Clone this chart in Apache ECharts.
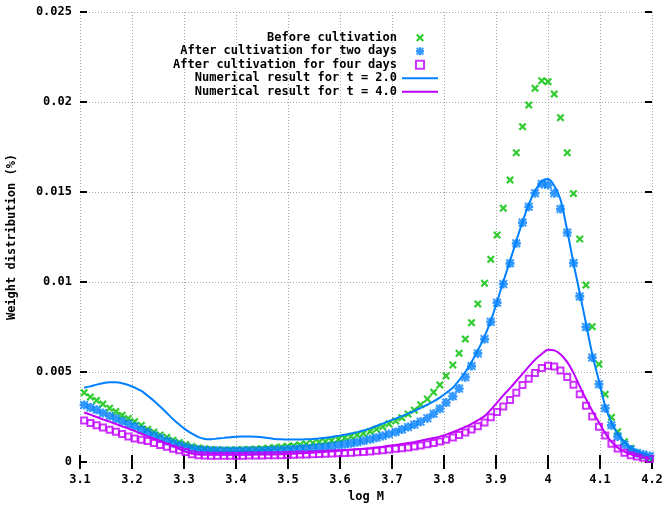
<!DOCTYPE html>
<html><head><meta charset="utf-8">
<script src="https://cdn.jsdelivr.net/npm/echarts/dist/echarts.min.js"></script>
<style>html,body{margin:0;padding:0;background:#fff}#c{width:665px;height:506px}</style>
</head><body><div id="c"></div>
<script>
const logM = [
3.108,3.120,3.132,3.144,3.157,3.169,3.181,3.193,3.205,3.218,
3.230,3.242,3.254,3.267,3.279,3.291,3.303,3.315,3.328,3.340,
3.352,3.364,3.377,3.389,3.401,3.413,3.425,3.438,3.450,3.462,
3.474,3.487,3.499,3.511,3.523,3.535,3.548,3.560,3.572,3.584,
3.597,3.609,3.621,3.633,3.645,3.658,3.670,3.682,3.694,3.707,
3.719,3.731,3.743,3.755,3.768,3.780,3.792,3.804,3.817,3.829,
3.841,3.853,3.865,3.878,3.890,3.902,3.914,3.927,3.939,3.951,
3.963,3.975,3.988,4.000,4.012,4.024,4.037,4.049,4.061,4.073,
4.085,4.098,4.110,4.122,4.134,4.147,4.159,4.171,4.183,4.196];

const beforeCultivation = [
0.00385,0.00361,0.00342,0.00322,0.00299,0.00280,0.00260,0.00242,0.00224,0.00204,
0.00182,0.00166,0.00150,0.00137,0.00121,0.00109,0.00097,0.00086,0.00078,0.00073,
0.00070,0.00068,0.00067,0.00067,0.00068,0.00069,0.00070,0.00072,0.00074,0.00077,
0.00080,0.00083,0.00087,0.00090,0.00095,0.00100,0.00105,0.00110,0.00115,0.00120,
0.00127,0.00134,0.00142,0.00150,0.00159,0.00170,0.00182,0.00196,0.00212,0.00228,
0.00246,0.00266,0.00288,0.00318,0.00350,0.00388,0.00428,0.00478,0.00539,0.00604,
0.00683,0.00774,0.00878,0.00993,0.01126,0.01261,0.01410,0.01567,0.01718,0.01863,
0.01983,0.02076,0.02118,0.02113,0.02044,0.01913,0.01718,0.01491,0.01239,0.00983,
0.00752,0.00543,0.00376,0.00248,0.00168,0.00113,0.00076,0.00048,0.00030,0.00020];

const afterTwoDays = [
0.00317,0.00303,0.00290,0.00272,0.00256,0.00241,0.00226,0.00211,0.00197,0.00179,
0.00164,0.00147,0.00132,0.00117,0.00104,0.00093,0.00082,0.00074,0.00068,0.00065,
0.00063,0.00062,0.00061,0.00061,0.00061,0.00061,0.00062,0.00062,0.00063,0.00064,
0.00066,0.00067,0.00069,0.00071,0.00073,0.00076,0.00078,0.00080,0.00084,0.00088,
0.00093,0.00098,0.00104,0.00110,0.00118,0.00126,0.00135,0.00145,0.00155,0.00167,
0.00181,0.00194,0.00208,0.00224,0.00243,0.00268,0.00296,0.00330,0.00365,0.00408,
0.00471,0.00533,0.00603,0.00683,0.00779,0.00885,0.00989,0.01104,0.01215,0.01330,
0.01418,0.01493,0.01545,0.01540,0.01493,0.01405,0.01275,0.01105,0.00920,0.00750,
0.00580,0.00432,0.00298,0.00204,0.00141,0.00097,0.00070,0.00050,0.00041,0.00034];

const afterFourDays = [
0.00230,0.00217,0.00204,0.00192,0.00179,0.00168,0.00155,0.00142,0.00130,0.00124,
0.00117,0.00106,0.00095,0.00085,0.00073,0.00065,0.00055,0.00043,0.00038,0.00036,
0.00035,0.00035,0.00035,0.00035,0.00035,0.00035,0.00036,0.00036,0.00036,0.00037,
0.00037,0.00038,0.00039,0.00040,0.00041,0.00042,0.00043,0.00044,0.00046,0.00047,
0.00049,0.00050,0.00052,0.00054,0.00056,0.00059,0.00062,0.00065,0.00069,0.00073,
0.00077,0.00081,0.00086,0.00092,0.00099,0.00106,0.00114,0.00124,0.00136,0.00150,
0.00164,0.00180,0.00199,0.00220,0.00248,0.00278,0.00308,0.00345,0.00385,0.00428,
0.00462,0.00495,0.00522,0.00535,0.00530,0.00508,0.00472,0.00429,0.00376,0.00312,
0.00253,0.00196,0.00147,0.00102,0.00075,0.00051,0.00037,0.00030,0.00023,0.00017];

const numericalT2 = [
0.00412,0.00420,0.00430,0.00438,0.00443,0.00443,0.00438,0.00428,0.00414,0.00395,
0.00368,0.00340,0.00308,0.00272,0.00238,0.00208,0.00180,0.00158,0.00138,0.00128,
0.00126,0.00130,0.00134,0.00138,0.00140,0.00141,0.00141,0.00140,0.00138,0.00133,
0.00128,0.00126,0.00125,0.00125,0.00125,0.00126,0.00128,0.00131,0.00135,0.00139,
0.00145,0.00151,0.00158,0.00166,0.00175,0.00187,0.00200,0.00213,0.00227,0.00241,
0.00255,0.00269,0.00284,0.00300,0.00318,0.00337,0.00358,0.00383,0.00413,0.00453,
0.00500,0.00556,0.00620,0.00697,0.00785,0.00890,0.01002,0.01118,0.01228,0.01335,
0.01430,0.01505,0.01560,0.01572,0.01535,0.01458,0.01285,0.01105,0.00940,0.00770,
0.00600,0.00450,0.00310,0.00220,0.00155,0.00112,0.00082,0.00062,0.00047,0.00035];

const numericalT4 = [
0.00275,0.00263,0.00250,0.00237,0.00224,0.00211,0.00198,0.00186,0.00172,0.00157,
0.00144,0.00130,0.00117,0.00102,0.00088,0.00072,0.00056,0.00047,0.00042,0.00040,
0.00040,0.00040,0.00040,0.00040,0.00040,0.00040,0.00040,0.00041,0.00041,0.00042,
0.00042,0.00043,0.00044,0.00046,0.00048,0.00050,0.00052,0.00054,0.00057,0.00060,
0.00062,0.00065,0.00068,0.00071,0.00074,0.00077,0.00080,0.00085,0.00090,0.00095,
0.00100,0.00105,0.00110,0.00118,0.00126,0.00133,0.00141,0.00152,0.00165,0.00180,
0.00195,0.00212,0.00232,0.00255,0.00290,0.00330,0.00370,0.00410,0.00450,0.00490,
0.00530,0.00568,0.00600,0.00623,0.00620,0.00598,0.00555,0.00495,0.00420,0.00350,
0.00285,0.00220,0.00160,0.00112,0.00080,0.00058,0.00043,0.00033,0.00025,0.00019];

const seriesNames = ['Before cultivation','After cultivation for two days','After cultivation for four days','Numerical result for t = 2.0','Numerical result for t = 4.0'];
const xRange = {min: 3.1, max: 4.2, interval: 0.1};
const yRange = {min: 0, max: 0.025, interval: 0.005};

const FONT = 'DejaVu Sans Mono';
const GREEN = '#00c000', BLUE = '#0080ff', MAGENTA = '#c000ff';
const crossPath = 'path://M0,2L2,0L5,3L8,0L10,2L7,5L10,8L8,10L5,7L2,10L0,8L3,5Z';
const starPath = 'path://M3.5,0H6.5V3.5H10V6.5H6.5V10H3.5V6.5H0V3.5H3.5Z M0,1.5L1.5,0L5,3.5L8.5,0L10,1.5L6.5,5L10,8.5L8.5,10L5,6.5L1.5,10L0,8.5L3.5,5Z';
const squarePath = 'path://M0,0H10V10H0Z';
const linePath = 'path://M0,0H36V2H0Z';
const pairs = ys => logM.map((x, i) => [x, ys[i]]);
const txt = {fontFamily: FONT, fontWeight: 'bold', fontSize: 12, color: '#000'};
const grid = {color: '#a8a8a8', type: [1, 2], width: 1};

const chart = echarts.init(document.getElementById('c'), null, {renderer: 'canvas'});
chart.setOption({
  animation: false,
  backgroundColor: '#fff',
  grid: {left: 80, right: 13, top: 12, bottom: 44, containLabel: false, outerBoundsMode: 'none'},
  legend: {
    orient: 'vertical', right: 222, top: 26, align: 'right',
    itemWidth: 36, itemHeight: 8, itemGap: 0, selectedMode: false,
    textStyle: Object.assign({}, txt, {lineHeight: 13.5}),
    data: [
      {name: seriesNames[0], icon: crossPath, itemStyle: {color: GREEN}},
      {name: seriesNames[1], icon: starPath, itemStyle: {color: BLUE}},
      {name: seriesNames[2], icon: squarePath, itemStyle: {color: 'rgba(0,0,0,0)', borderColor: MAGENTA, borderWidth: 2}},
      {name: seriesNames[3], icon: linePath, itemStyle: {color: BLUE, borderWidth: 0}},
      {name: seriesNames[4], icon: linePath, itemStyle: {color: MAGENTA, borderWidth: 0}}
    ]
  },
  xAxis: [
    Object.assign({type: 'value', position: 'bottom',
      axisLine: {show: false},
      axisTick: {show: true, inside: true, length: 7, lineStyle: {color: '#000', width: 2}},
      axisLabel: Object.assign({margin: 12}, txt),
      splitLine: {show: true, lineStyle: grid},
      name: 'log M', nameLocation: 'middle', nameGap: 26, nameTextStyle: txt}, xRange),
    Object.assign({type: 'value', position: 'top',
      axisLine: {show: false},
      axisTick: {show: true, inside: true, length: 7, lineStyle: {color: '#000', width: 2}},
      axisLabel: {show: false}, splitLine: {show: false}}, xRange)
  ],
  yAxis: [
    Object.assign({type: 'value', position: 'left',
      axisLine: {show: false},
      axisTick: {show: true, inside: true, length: 7, lineStyle: {color: '#000', width: 2}},
      axisLabel: Object.assign({margin: 8}, txt),
      splitLine: {show: true, lineStyle: grid},
      name: 'Weight distribution (%)', nameLocation: 'middle', nameGap: 62, nameTextStyle: txt}, yRange),
    Object.assign({type: 'value', position: 'right',
      axisLine: {show: false},
      axisTick: {show: true, inside: true, length: 7, lineStyle: {color: '#000', width: 2}},
      axisLabel: {show: false}, splitLine: {show: false}}, yRange)
  ],
  series: [
    {type: 'scatter', name: seriesNames[0], data: pairs(beforeCultivation), symbol: crossPath, symbolSize: 8,
     itemStyle: {color: GREEN}},
    {type: 'scatter', name: seriesNames[1], data: pairs(afterTwoDays), symbol: starPath, symbolSize: 9,
     itemStyle: {color: BLUE}},
    {type: 'scatter', name: seriesNames[2], data: pairs(afterFourDays), symbol: 'rect', symbolSize: 6,
     itemStyle: {color: 'rgba(0,0,0,0)', borderColor: MAGENTA, borderWidth: 2}},
    {type: 'line', name: seriesNames[3], data: pairs(numericalT2), symbol: 'none', showSymbol: false, smooth: 0.3,
     lineStyle: {color: BLUE, width: 2}, itemStyle: {color: BLUE}},
    {type: 'line', name: seriesNames[4], data: pairs(numericalT4), symbol: 'none', showSymbol: false, smooth: 0.3,
     lineStyle: {color: MAGENTA, width: 2}, itemStyle: {color: MAGENTA}}
  ]
});
</script></body></html>
